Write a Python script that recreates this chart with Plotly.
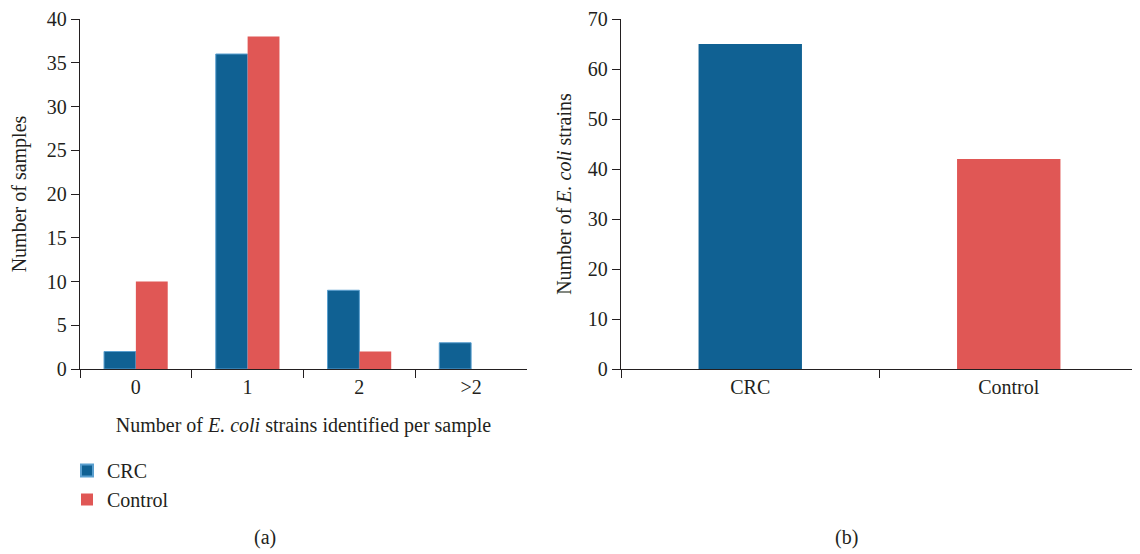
import plotly.graph_objects as go

categories_a = ["0", "1", "2", ">2"]
crc_a = [2, 36, 9, 3]
control_a = [10, 38, 2, 0]

categories_b = ["CRC", "Control"]
values_b = [65, 42]

BLUE = "#106193"
RED = "#E05755"
INK = "#231f20"
FONT = "Liberation Serif"
FS = 20

W, H, OFF = 1132, 546, 8


def px(x):
    return (x - OFF) / W


def py(y):
    return 1 - (y - OFF) / H


fig = go.Figure()
fig.add_trace(go.Bar(x=categories_a, y=crc_a, name="CRC", marker=dict(color=BLUE, line=dict(color="#5a9fcf", width=1)),
                     xaxis="x", yaxis="y"))
fig.add_trace(go.Bar(x=categories_a, y=control_a, name="Control", marker=dict(color=RED, line=dict(width=0)),
                     xaxis="x", yaxis="y"))
fig.add_trace(go.Bar(x=categories_b, y=values_b, marker=dict(color=[BLUE, RED], line=dict(width=0)),
                     width=0.4, showlegend=False, xaxis="x2", yaxis="y2"))

axis_common = dict(showline=True, linecolor=INK, linewidth=1.3, ticks="outside", tickcolor=INK,
                   tickwidth=1.3, ticklen=8, showgrid=False, zeroline=False, automargin=False,
                   ticklabeloverflow="allow",
                   tickfont=dict(family=FONT, size=FS, color=INK))

TOP = 19

fig.update_layout(
    width=W, height=H,
    margin=dict(l=0, r=0, t=0, b=0),
    paper_bgcolor="white", plot_bgcolor="white",
    barmode="group", bargap=0.43, bargroupgap=0,
    font=dict(family=FONT, size=FS, color=INK),
    xaxis=dict(domain=[px(80), px(527)], type="category", tickson="boundaries", range=[-0.5, 3.5],
               anchor="y",
               title=dict(text="Number of <i>E. coli</i> strains identified per sample",
                          font=dict(family=FONT, size=FS, color=INK), standoff=20), **axis_common),
    yaxis=dict(domain=[py(369), py(TOP)], range=[0, 40], dtick=5, anchor="x",
               title=dict(text="Number of samples", font=dict(family=FONT, size=FS, color=INK), standoff=14),
               **axis_common),
    xaxis2=dict(domain=[px(621), px(1138)], type="category", tickson="boundaries", range=[-0.5, 1.5],
                anchor="y2", **axis_common),
    yaxis2=dict(domain=[py(369), py(TOP)], range=[0, 70], dtick=10, anchor="x2",
                title=dict(text="Number of <i>E. coli</i> strains", font=dict(family=FONT, size=FS, color=INK),
                           standoff=10),
                **axis_common),
    legend=dict(x=px(67), y=py(451), xanchor="left", yanchor="top", bgcolor="rgba(0,0,0,0)",
                font=dict(family=FONT, size=FS, color=INK), tracegroupgap=4, itemsizing="constant"),
    annotations=[
        dict(text="(a)", x=px(265), y=py(537), xref="paper", yref="paper", showarrow=False,
             xanchor="center", yanchor="middle", font=dict(family=FONT, size=FS, color=INK)),
        dict(text="(b)", x=px(846), y=py(537), xref="paper", yref="paper", showarrow=False,
             xanchor="center", yanchor="middle", font=dict(family=FONT, size=FS, color=INK)),
    ],
)

fig.write_html("out.html")
